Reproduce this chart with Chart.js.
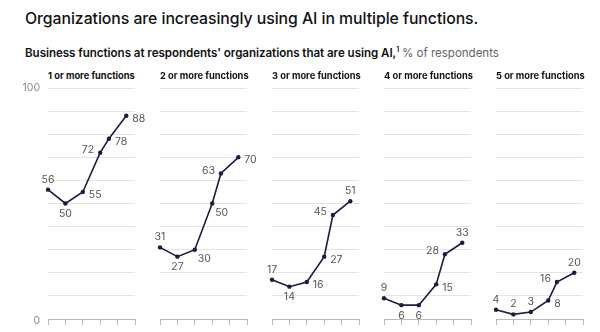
<!DOCTYPE html>
<html>
<head>
<meta charset="utf-8">
<script src="https://cdn.jsdelivr.net/npm/chart.js@4"></script>
<style>
  body { margin: 0; background: #fff; width: 600px; height: 332px; overflow: hidden; position: relative; font-family: Inter, "Noto Sans", sans-serif; }
  .title { position: absolute; left: 25px; top: 9px; font-size: 15.8px; font-weight: 500; color: #111; letter-spacing: -0.05px; }
  .sub { position: absolute; left: 25px; top: 45px; font-size: 11.6px; color: #111; font-weight: 600; letter-spacing: -0.05px; }
  .sub sup { font-size: 7px; }
  .sub span { font-weight: 400; color: #666; }
  .panelTitle { position: absolute; top: 70px; font-size: 9.3px; font-weight: 700; color: #111; }
  canvas { position: absolute; }
</style>
</head>
<body>
<div class="title">Organizations are increasingly using AI in multiple functions.</div>
<div class="sub">Business functions at respondents' organizations that are using AI,<sup>1</sup> <span>% of respondents</span></div>
<div id="wrap"></div>
<script>
// survey dates (decimal years) and share of respondents per panel
const surveyTimes = [2021, 2022, 2023, 2024, 2024.5, 2025.5];
const panelTitles = ['1 or more functions', '2 or more functions', '3 or more functions', '4 or more functions', '5 or more functions'];
const oneOrMore = [56, 50, 55, 72, 78, 88];
const twoOrMore = [31, 27, 30, 50, 63, 70];
const threeOrMore = [17, 14, 16, 27, 45, 51];
const fourOrMore = [9, 6, 6, 15, 28, 33];
const fiveOrMore = [4, 2, 3, 8, 16, 20];
const allSeries = [oneOrMore, twoOrMore, threeOrMore, fourOrMore, fiveOrMore];

// where each value label sits relative to its point
const labelSpots = [
  ['a', 'b', 'r', 'l', 'r', 'r'],
  ['a', 'b', 'br', 'br', 'l', 'r'],
  ['a', 'b', 'r', 'r', 'l', 'a'],
  ['a', 'b', 'b', 'r', 'l', 'a'],
  ['a', 'a', 'a', 'r', 'l', 'a'],
];

const navy = '#1b1b45';

const valueLabels = {
  id: 'valueLabels',
  afterDatasetsDraw(chart) {
    const ctx = chart.ctx;
    const meta = chart.getDatasetMeta(0);
    const spots = chart.options.plugins.valueLabels.spots;
    ctx.save();
    ctx.font = '10.5px Inter, "Noto Sans", sans-serif';
    ctx.fillStyle = '#555';
    meta.data.forEach((pt, i) => {
      const v = chart.data.datasets[0].data[i].y;
      let x = pt.x, y = pt.y;
      const s = spots[i];
      if (s === 'a') { ctx.textAlign = 'center'; ctx.textBaseline = 'bottom'; y -= 5; }
      else if (s === 'b') { ctx.textAlign = 'center'; ctx.textBaseline = 'top'; y += 5; }
      else if (s === 'r') { ctx.textAlign = 'left'; ctx.textBaseline = 'middle'; x += 6; y += 3; }
      else if (s === 'l') { ctx.textAlign = 'right'; ctx.textBaseline = 'middle'; x -= 6; y -= 3; }
      else if (s === 'br') { ctx.textAlign = 'left'; ctx.textBaseline = 'top'; x += 3; y += 4; }
      ctx.fillText(v, x, y);
    });
    // y axis end labels, first panel only
    if (chart.options.plugins.valueLabels.showAxis) {
      const ys = chart.scales.y;
      ctx.fillStyle = '#888';
      ctx.textAlign = 'right';
      ctx.textBaseline = 'middle';
      ctx.fillText('100', chart.chartArea.left - 8, ys.getPixelForValue(100));
      ctx.fillText('0', chart.chartArea.left - 8, ys.getPixelForValue(0) + 2);
    }
    ctx.restore();
  }
};

const wrap = document.getElementById('wrap');
allSeries.forEach((series, p) => {
  const t = document.createElement('div');
  t.className = 'panelTitle';
  t.style.left = (48 + 112 * p) + 'px';
  t.textContent = panelTitles[p];
  wrap.appendChild(t);

  const c = document.createElement('canvas');
  c.width = 155; c.height = 250;
  c.style.left = (8 + 112 * p) + 'px';
  c.style.top = '80px';
  wrap.appendChild(c);

  new Chart(c, {
    type: 'line',
    data: {
      datasets: [{
        data: series.map((v, i) => ({ x: surveyTimes[i], y: v })),
        borderColor: navy,
        borderWidth: 1.6,
        pointRadius: 2.2,
        pointBackgroundColor: navy,
        pointBorderWidth: 0,
        tension: 0,
        clip: false,
      }],
    },
    options: {
      responsive: false,
      animation: false,
      layout: { padding: { left: 40, right: 28, top: 8, bottom: 5 } },
      plugins: {
        legend: { display: false },
        tooltip: { enabled: false },
        valueLabels: { spots: labelSpots[p], showAxis: p === 0 },
      },
      scales: {
        x: {
          type: 'linear',
          min: 2021, max: 2026,
          ticks: { display: false, stepSize: 1 },
          grid: { drawOnChartArea: false, tickColor: '#bbb', tickLength: 6 },
          border: { color: '#bbb' },
        },
        y: {
          min: 0, max: 100,
          ticks: { display: false, stepSize: 10 },
          grid: { color: '#e4e4e4', drawTicks: false },
          border: { display: false },
        },
      },
    },
    plugins: [valueLabels],
  });
});
</script>
</body>
</html>
